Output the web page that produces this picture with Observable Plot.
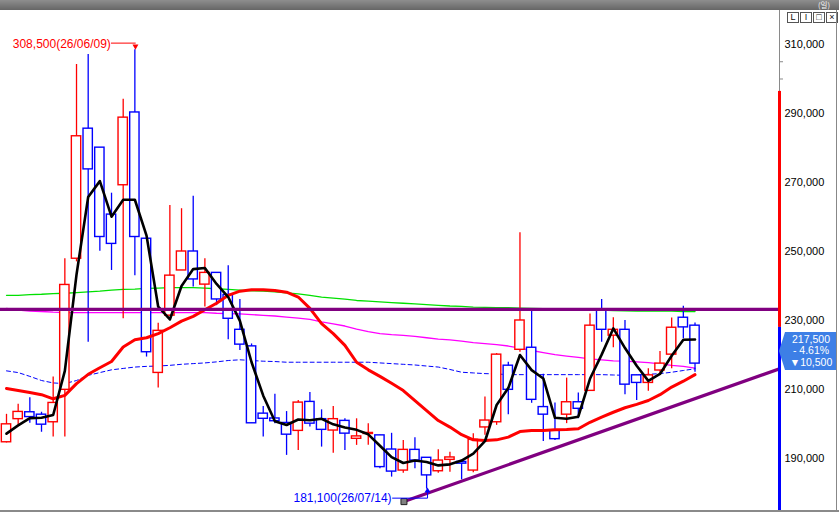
<!DOCTYPE html>
<html>
<head>
<meta charset="utf-8">
<script src="https://cdn.jsdelivr.net/npm/d3@7"></script>
<script src="https://cdn.jsdelivr.net/npm/@observablehq/plot@0.6"></script>
<style>
  body { margin: 0; background: #fff; font-family: "Liberation Sans", Arial, sans-serif; }
  #wrap { position: relative; width: 839px; height: 512px; overflow: hidden; background: #fff; }
  #bar { position: absolute; left: 0; top: 0; width: 839px; height: 10px; background: linear-gradient(#8e8e8e, #666); }
  #bar span { position: absolute; right: 9px; top: 1px; color: #f4f4f4; font: 7.5px/8px "Noto Sans CJK KR", sans-serif; }
  #chart { position: absolute; left: 0; top: 10px; }
  #edge { position: absolute; left: 836px; top: 10px; width: 1px; height: 502px; background: #888; }
  #bottom { position: absolute; left: 0; top: 510px; width: 839px; height: 2px; background: #8a8a8a; }
  #btns { position: absolute; left: 787px; top: 12px; display: flex; }
  #btns span { width: 10px; height: 9px; border: 1px solid #555; margin-right: 1px; font: 9px/9px "Liberation Sans", sans-serif; text-align: center; color: #111; }
  #tag { position: absolute; left: 779px; top: 332px; width: 58px; height: 38px; background: #3d7fe6;
         clip-path: polygon(0 50%, 6px 0, 100% 0, 100% 100%, 6px 100%);
         color: #fff; font: 10.5px/11.8px "Liberation Sans", Arial, sans-serif; text-align: center; padding-top: 1.5px; box-sizing: border-box; padding-left: 6px; }
</style>
</head>
<body>
<div id="wrap">
  <div id="bar"><span>(일)</span></div>
  <div id="chart"></div>
  <div id="btns"><span>L</span><span>I</span><span>□</span><span>×</span></div>
  <div id="tag"></div>
  <div id="edge"></div>
  <div id="bottom"></div>
</div>
<script>
// daily candles
const opens  = [194700, 201400, 203400, 202700, 200500, 209900, 247900, 285600, 280100, 260700,
                269200, 290300, 253700, 214800, 231400, 244500, 250000, 240400, 243800, 237400,
                227300, 222500, 203000, 201600, 200300, 198000, 206400, 201400, 198100, 200900,
                195700, 197100, 196700, 192600, 186500, 192500, 190200, 186300, 189600, 189000,
                186500, 199000, 200500, 216900, 221500, 222100, 204900, 198100, 202700, 206300,
                209600, 232900, 225600, 227300, 214100, 211900, 215500, 220100, 230800, 228500]
const highs  = [202800, 205700, 207600, 203400, 213600, 247900, 304200, 307100, 280100, 266900,
                294100, 308500, 253700, 229200, 263300, 262400, 266000, 247900, 243800, 245900,
                236100, 223200, 205100, 208600, 203600, 206800, 209100, 204100, 205100, 201500,
                201500, 200100, 196700, 197300, 195200, 196000, 190200, 192500, 191800, 189200,
                197200, 207800, 220400, 217900, 255400, 232600, 214400, 206100, 213300, 209000,
                231900, 236100, 230800, 230000, 214300, 216000, 221000, 230700, 234100, 229300]
const lows   = [194500, 199700, 200200, 197600, 196200, 196200, 247000, 223700, 250100, 244500,
                230500, 243000, 219400, 210400, 231400, 244500, 239700, 233900, 234300, 224400,
                221300, 200200, 196200, 200100, 190900, 192300, 199100, 193300, 191500, 192300,
                193800, 193800, 187000, 184600, 185700, 187000, 181100, 185700, 186000, 183800,
                185900, 196700, 199600, 202700, 220800, 206000, 194900, 195200, 200100, 201500,
                209400, 223700, 222100, 208500, 206800, 209500, 214100, 216000, 224700, 215000]
const closes = [199900, 203500, 202000, 199800, 206100, 240300, 283400, 273800, 254200, 252200,
                288800, 254200, 220800, 227000, 243000, 250000, 241900, 243800, 236100, 230500,
                223000, 200200, 201500, 200800, 196900, 206200, 200100, 198300, 201400, 197200,
                196400, 197400, 187500, 186200, 192500, 189400, 185100, 189400, 190300, 188500,
                195400, 201000, 220100, 209900, 230000, 207000, 202700, 195600, 206300, 204400,
                228500, 227300, 227300, 211400, 211900, 214100, 217500, 227900, 228000, 217500]

// moving average lines
const ma3   = [197200, 199600, 201700, 201800, 202600, 215400, 243300, 265800, 270400, 260100,
               265000, 265000, 254600, 234000, 230300, 240000, 244900, 245200, 240600, 236800,
               229900, 217900, 208200, 200800, 199700, 201300, 201100, 201500, 199900, 199000,
               198300, 197000, 193700, 190400, 188700, 189400, 189000, 188000, 188300, 189400,
               191400, 195000, 205500, 210400, 220000, 215600, 213200, 201800, 201500, 202100,
               213100, 220100, 227700, 222000, 216900, 212500, 214500, 219800, 224400, 224500]
const ma20  = [210300, 209700, 209100, 208500, 207300, 208300, 211700, 214400, 216300, 218100,
               222300, 224400, 225000, 226200, 227900, 229800, 231200, 233100, 235000, 237300,
               238500, 238900, 238900, 238700, 238200, 236800, 233500, 229100, 226200, 222800,
               217900, 215700, 213800, 211800, 209700, 206800, 203900, 201000, 199100, 196900,
               195400, 195200, 195400, 196200, 197800, 198100, 198100, 198300, 198400, 198600,
               200500, 202000, 203400, 204700, 205700, 206800, 208500, 210700, 212400, 214300]
const ma60  = [215400, 214900, 213800, 212600, 211900, 211700, 212600, 214100, 214900, 215700,
               216100, 216500, 216700, 216800, 217000, 217300, 217500, 217700, 218000, 218400,
               218600, 218400, 218200, 218100, 217900, 217900, 217900, 217900, 217900, 217900,
               217900, 217900, 217700, 217500, 217300, 217100, 216800, 216500, 215800, 215000,
               214800, 214600, 214500, 214300, 214300, 214300, 214300, 214300, 214300, 214300,
               214300, 214300, 214200, 214100, 214200, 214400, 214600, 215000, 215500, 216000]
const ma120 = [233500, 233000, 232700, 232600, 232400, 232300, 232300, 232300, 232300, 232300,
               232300, 232300, 232300, 232300, 232300, 232300, 232300, 232300, 232100, 232000,
               231900, 231700, 231500, 231300, 231000, 230700, 230300, 229600, 229000, 228400,
               227500, 226800, 226200, 225900, 225700, 225400, 225000, 224600, 224400, 224000,
               223600, 223300, 223000, 222600, 222000, 221300, 220700, 220100, 219700, 219300,
               218900, 218600, 218300, 218200, 218000, 217800, 217400, 217000, 216700, 216200]
const ma240 = [237300, 237300, 237500, 237600, 237800, 237900, 238100, 238300, 238500, 238800,
               239000, 239100, 239300, 239400, 239500, 239500, 239500, 239400, 239200, 239000,
               238800, 238600, 238500, 238300, 238000, 237700, 237300, 236800, 236500, 236200,
               235800, 235600, 235400, 235200, 235000, 234800, 234600, 234400, 234200, 234100,
               233900, 233800, 233700, 233700, 233600, 233500, 233400, 233300, 233200, 233200,
               233100, 233000, 232900, 232800, 232700, 232700, 232700, 232700, 232600, 232600]

// drawn lines and price limits
const resistance = 233200
const trendIdx = [34.06, 66.24]
const trendVal = [177500, 216000]
const upperLimit = 296400
const yTicks = [190000, 210000, 230000, 250000, 270000, 290000, 310000]
const minorTicks = [300000, 305000]
const highDate = "26/06/09"
const lowDate = "26/07/14"

const fmt = d3.format(",")
const N = closes.length
const candles = closes.map((c, i) => ({i, open: opens[i], high: highs[i], low: lows[i], close: c}))
const ups = candles.filter(d => d.close >= d.open)
const downs = candles.filter(d => d.close < d.open)
const series = arr => arr.map((v, i) => ({i, v}))

const xMax = 66.24
const yDom = [174342, 319855]
const prevClose = closes[N - 2]
const last = closes[N - 1]

// highest high / lowest low
const hiIdx = d3.maxIndex(highs)
const loIdx = d3.minIndex(lows)
const hi = {i: hiIdx, v: highs[hiIdx]}
const lo = {i: loIdx, v: lows[loIdx]}

function candleMarks(data, color) {
  return [
    Plot.ruleX(data, {x: "i", y1: "low", y2: "high", stroke: color, strokeWidth: 1.3}),
    Plot.rect(data, {x1: d => d.i - 0.4, x2: d => d.i + 0.4, y1: "open", y2: "close",
                     fill: "white", stroke: color, strokeWidth: 1.4})
  ]
}

const chart = Plot.plot({
  width: 839,
  height: 502,
  marginLeft: 0,
  marginRight: 60,
  marginTop: 0,
  marginBottom: 0,
  x: {domain: [-0.514, xMax], axis: null},
  y: {domain: yDom, axis: "right", ticks: yTicks, tickFormat: fmt, tickSize: 0, tickPadding: 5, label: null},
  style: {fontFamily: "Liberation Sans, Arial, sans-serif", fontSize: "11px", color: "#000", background: "white"},
  marks: [
    Plot.line(series(ma240), {x: "i", y: "v", stroke: "#00e000", strokeWidth: 1.3}),
    Plot.line(series(ma120), {x: "i", y: "v", stroke: "#ff00ff", strokeWidth: 1.3}),
    Plot.line(series(ma60), {x: "i", y: "v", stroke: "#0000ff", strokeWidth: 1, strokeDasharray: "4,3"}),
    ...candleMarks(ups, "#ff0000"),
    ...candleMarks(downs, "#0000ff"),
    Plot.line(series(ma20), {x: "i", y: "v", stroke: "#ff0000", strokeWidth: 3}),
    Plot.line(series(ma3), {x: "i", y: "v", stroke: "#000", strokeWidth: 2.6}),
    Plot.ruleY([resistance], {stroke: "#800080", strokeWidth: 3.2}),
    Plot.line(trendIdx.map((x, k) => ({x, v: trendVal[k]})), {x: "x", y: "v", stroke: "#800080", strokeWidth: 3.2, clip: true}),
    Plot.dot([{x: trendIdx[0], v: trendVal[0]}], {x: "x", y: "v", symbol: "square", r: 3.4, fill: "#808080", stroke: "#222", strokeWidth: 1}),
    // right price axis line: gray, red above previous close, blue below
    Plot.ruleX([xMax], {stroke: "#8a8a8a", strokeWidth: 1}),
    Plot.link(minorTicks, {x1: xMax, x2: xMax + 0.3, y1: d => d, y2: d => d, stroke: "#8a8a8a"}),
    Plot.ruleX([xMax], {y1: prevClose, y2: upperLimit, stroke: "#ff0000", strokeWidth: 3}),
    Plot.ruleX([xMax], {y1: yDom[0], y2: prevClose, stroke: "#0000ff", strokeWidth: 3}),
    // high marker
    Plot.text([hi], {x: "i", y: "v", text: d => `${fmt(d.v)}(${highDate})`, textAnchor: "end",
                     dx: -24, dy: -6, fill: "#ff0000", fontSize: 12}),
    Plot.link([hi], {x1: d => d.i - 2.05, x2: d => d.i + 0.07, y1: d => d.v + 1900, y2: d => d.v + 1900, stroke: "#ff0000"}),
    Plot.dot([hi], {x: d => d.i + 0.05, y: d => d.v + 1000, symbol: "triangle", r: 2.2, rotate: 180, fill: "#ff0000", stroke: "none"}),
    // low marker
    Plot.text([lo], {x: "i", y: "v", text: d => `${fmt(d.v)}(${lowDate})`, textAnchor: "end",
                     dx: -35, dy: 9, fill: "#0000ff", fontSize: 12}),
    Plot.link([lo], {x1: d => d.i - 2.95, x2: d => d.i + 0.08, y1: d => d.v - 2600, y2: d => d.v - 2600, stroke: "#0000ff"}),
    Plot.link([lo], {x1: d => d.i + 0.08, x2: d => d.i + 0.08, y1: d => d.v - 2600, y2: d => d.v - 600, stroke: "#0000ff"}),
    Plot.dot([lo], {x: d => d.i + 0.08, y: d => d.v - 500, symbol: "triangle", r: 2.2, fill: "#0000ff", stroke: "none"})
  ]
})

d3.select("#chart").append(() => chart)

// current price tag
const diff = last - prevClose
const pct = diff / prevClose * 100
d3.select("#tag").html(
  `${fmt(last)}<br>${diff < 0 ? "- " : "+ "}${Math.abs(pct).toFixed(2)}%<br>${diff < 0 ? "▼" : "▲"}${fmt(Math.abs(diff))}`
)
</script>
</body>
</html>
